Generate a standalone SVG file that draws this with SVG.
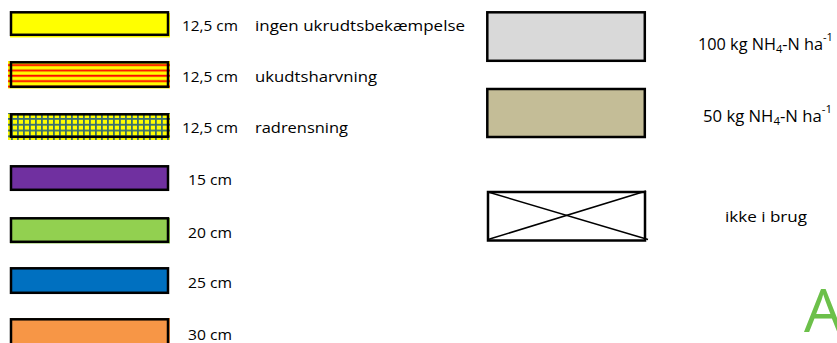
<svg xmlns="http://www.w3.org/2000/svg" width="837" height="343" viewBox="0 0 837 343">
<style>
.box{stroke:#000;stroke-width:2.5;}
.t{font-family:"Open Sans","Liberation Sans",sans-serif;font-size:15px;fill:#000;}
.r{font-size:16px;}
.s{font-size:11px;}
</style>
<defs>
<pattern id="stripes" patternUnits="userSpaceOnUse" x="0" y="62.6" width="10" height="5.35">
<rect width="10" height="5.35" fill="#FFFF00"/>
<rect y="1.2" width="10" height="2.6" fill="#FF9900"/>
<rect y="1.8" width="10" height="1.4" fill="#FF0000"/>
</pattern>
<pattern id="grid" patternUnits="userSpaceOnUse" x="11" y="118" width="6" height="5.8">
<rect width="6" height="5.8" fill="#FFFF00"/>
<rect width="6" height="1.8" fill="#3A7070"/>
<rect width="1.8" height="5.8" fill="#3A7070"/>
</pattern>
</defs>
<rect width="837" height="343" fill="#fff"/>

<g id="n1">
<rect x="10" y="13" width="160" height="24.5" fill="#FFFF00"/>
<rect class="box" x="11" y="12.3" width="157" height="22.5" fill="#FFFF00"/>
<text class="t" x="182" y="30.5" textLength="56" lengthAdjust="spacingAndGlyphs">12,5 cm</text>
<text class="t" x="255" y="30.5" textLength="210" lengthAdjust="spacingAndGlyphs">ingen ukrudtsbekæmpelse</text>
</g>
<g id="n2">
<rect x="8" y="61" width="162" height="27.5" fill="url(#stripes)"/>
<rect class="box" x="11" y="62.3" width="157" height="24.5" fill="none"/>
<text class="t" x="182" y="81.5" textLength="56" lengthAdjust="spacingAndGlyphs">12,5 cm</text>
<text class="t" x="255" y="81.5" textLength="122" lengthAdjust="spacingAndGlyphs">ukudtsharvning</text>
</g>
<g id="n3">
<rect x="8" y="113" width="162" height="27" fill="url(#grid)"/>
<rect class="box" x="11" y="114.3" width="157" height="22.5" fill="none"/>
<text class="t" x="182" y="133" textLength="56" lengthAdjust="spacingAndGlyphs">12,5 cm</text>
<text class="t" x="255" y="133" textLength="93" lengthAdjust="spacingAndGlyphs">radrensning</text>
</g>
<g id="n4">
<rect class="box" x="11" y="166.3" width="157" height="23.5" fill="#7030A0"/>
<text class="t" x="188" y="185" textLength="44" lengthAdjust="spacingAndGlyphs">15 cm</text>
</g>
<g id="n5">
<rect x="10" y="218" width="160" height="25.5" fill="#92D050"/>
<rect class="box" x="11" y="218.3" width="157" height="23.5" fill="#92D050"/>
<text class="t" x="188" y="237.5" textLength="44" lengthAdjust="spacingAndGlyphs">20 cm</text>
</g>
<g id="n6">
<rect class="box" x="11" y="268.3" width="157" height="24.5" fill="#0070C0"/>
<text class="t" x="188" y="288" textLength="44" lengthAdjust="spacingAndGlyphs">25 cm</text>
</g>
<g id="n7">
<rect x="10" y="318" width="160" height="30" fill="#F79646"/>
<rect class="box" x="11" y="319.3" width="157" height="30" fill="#F79646"/>
<text class="t" x="188" y="340" textLength="44" lengthAdjust="spacingAndGlyphs">30 cm</text>
</g>

<g id="n8">
<rect class="box" x="487.3" y="12.3" width="157.5" height="48.5" fill="#D9D9D9"/>
<text class="t r" x="698" y="50" textLength="135" lengthAdjust="spacingAndGlyphs">100 kg NH<tspan class="s" dy="3">4</tspan><tspan dy="-3">-N ha</tspan><tspan class="s" dy="-9">-1</tspan></text>
</g>
<g id="n9">
<rect class="box" x="487.3" y="89" width="157.5" height="48" fill="#C4BD97"/>
<text class="t r" x="703" y="122" textLength="129" lengthAdjust="spacingAndGlyphs">50 kg NH<tspan class="s" dy="3">4</tspan><tspan dy="-3">-N ha</tspan><tspan class="s" dy="-9">-1</tspan></text>
</g>
<g id="n10">
<rect class="box" x="488" y="192" width="157" height="48.5" fill="#fff"/>
<line x1="488" y1="192" x2="648" y2="239.5" stroke="#000" stroke-width="1.5"/>
<line x1="488" y1="239.5" x2="646" y2="191" stroke="#000" stroke-width="1.5"/>
<text class="t" x="725" y="222" textLength="82" lengthAdjust="spacingAndGlyphs">ikke i brug</text>
</g>

<g id="connectors"></g>

<text x="804" y="332" font-family="'Open Sans','Liberation Sans',sans-serif" font-size="61" fill="#6CC04A">A</text>
</svg>
